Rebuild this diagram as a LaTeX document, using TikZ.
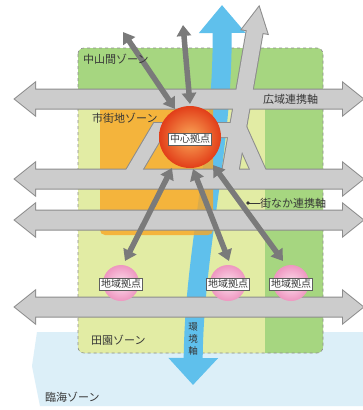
\documentclass[tikz,border=0pt]{standalone}
\usepackage{fontspec}
\setmainfont{Noto Sans CJK JP}
\usetikzlibrary{arrows.meta}
\definecolor{mtgreen}{RGB}{166,214,128}
\definecolor{ruralgreen}{RGB}{226,236,164}
\definecolor{urbanorange}{RGB}{249,166,35}
\definecolor{seablue}{RGB}{220,239,248}
\definecolor{riverblue}{RGB}{95,192,236}
\definecolor{roadfill}{RGB}{204,204,204}
\definecolor{roadline}{RGB}{140,140,140}
\definecolor{arrowgray}{RGB}{122,122,122}
\definecolor{txt}{RGB}{55,55,55}
\definecolor{zoneedge}{RGB}{140,140,140}
\definecolor{coreinner}{RGB}{250,168,88}
\definecolor{coreouter}{RGB}{226,62,25}
\definecolor{pinkinner}{RGB}{252,222,236}
\definecolor{pinkouter}{RGB}{238,150,192}
\begin{document}
\begin{tikzpicture}[x=1pt,y=-1pt,
  zonelabel/.style={anchor=west, font=\fontsize{11}{13}\selectfont, text=txt, inner sep=0pt},
  nodelabel/.style={draw=txt!80, fill=white, line width=0.5pt, inner sep=1.3pt, font=\fontsize{10}{12}\selectfont, text=txt},
  darrow/.style={draw=arrowgray, line width=5.5pt, {Triangle[width=14pt,length=11pt]}-{Triangle[width=14pt,length=11pt]}},
  outl/.style={fill=roadline, draw=roadline, line width=2pt, line join=miter},
  infill/.style={fill=roadfill},
  coreball/.style={circle, minimum size=62pt, inner sep=0pt, shading=radial, inner color=coreinner, outer color=coreouter},
  pinkball/.style={circle, minimum size=36pt, inner sep=0pt, shading=radial, inner color=pinkinner, outer color=pinkouter},
]
\useasboundingbox (0,0) rectangle (363,410);
\fill[white] (0,0) rectangle (363,410);
% sea zone
\fill[seablue] (37,332) -- (363,332) -- (363,406) -- (40,406) -- (32,366) -- cycle;
% mountain zone and rural zone
\fill[mtgreen, rounded corners=6pt] (78,48) rectangle (323,353);
\begin{scope}
  \clip[rounded corners=6pt] (78,48) rectangle (323,353);
  \fill[ruralgreen] (78,100) rectangle (265,353);
\end{scope}
\draw[zoneedge, dashed, line width=0.6pt, rounded corners=6pt] (78,48) rectangle (323,353);
% river
\coordinate (rtop) at (222,5);
\coordinate (rbot) at (193,385);
\draw[riverblue, line width=19pt, {Triangle[width=45pt,length=28pt]}-{Triangle[width=48pt,length=27pt]}] (rtop) .. controls (223,150) and (194,250) .. (rbot);
% urban zone
\fill[urbanorange, fill opacity=0.8, rounded corners=5pt] (100,100) rectangle (213,235);
% roads: outline layer
\foreach \yy in {99,179,220,307} {
  \filldraw[outl] (15,\yy) -- (35,\yy-16) -- (35,\yy-9.5) -- (343,\yy-9.5) -- (343,\yy-16) -- (363,\yy) -- (343,\yy+16) -- (343,\yy+9.5) -- (35,\yy+9.5) -- (35,\yy+16) -- cycle;
}
\filldraw[outl] (259,7) -- (267.5,33.8) -- (262.6,33.0) -- (236.9,180.4) -- (221.1,177.6) -- (246.8,30.2) -- (241.9,29.4) -- cycle;
\draw[roadline, line width=16pt, line join=miter] (129,179) -- (158,130) -- (240,130) -- (262,179);
% roads: fill layer
\foreach \yy in {99,179,220,307} {
  \fill[infill] (15,\yy) -- (35,\yy-16) -- (35,\yy-9.5) -- (343,\yy-9.5) -- (343,\yy-16) -- (363,\yy) -- (343,\yy+16) -- (343,\yy+9.5) -- (35,\yy+9.5) -- (35,\yy+16) -- cycle;
}
\fill[infill] (259,7) -- (267.5,33.8) -- (262.6,33.0) -- (236.9,180.4) -- (221.1,177.6) -- (246.8,30.2) -- (241.9,29.4) -- cycle;
\draw[roadfill, line width=14pt, line join=miter] (129,179) -- (158,130) -- (240,130) -- (262,179);
% link arrows
\coordinate (ul1) at (123,32);  \coordinate (ul2) at (175,109);
\coordinate (up1) at (183,25);  \coordinate (up2) at (190,104);
\coordinate (d1a) at (172,168); \coordinate (d1b) at (125,261);
\coordinate (d2a) at (193,169); \coordinate (d2b) at (229,261);
\coordinate (d3a) at (213,165); \coordinate (d3b) at (283,261);
\draw[darrow] (ul2) -- (ul1);
\draw[darrow] (up2) -- (up1);
\draw[darrow] (d1a) -- (d1b);
\draw[darrow] (d2a) -- (d2b);
\draw[darrow] (d3a) -- (d3b);
% centre and regional hubs
\node[coreball] (core) at (190,137) {};
\node[nodelabel] (corelbl) at (190,139) {中心拠点};
\node[pinkball] (hub1) at (121,283) {};
\node[pinkball] (hub2) at (228,283) {};
\node[pinkball] (hub3) at (291,283) {};
\node[nodelabel] (hub1lbl) at (121,284) {地域拠点};
\node[nodelabel] (hub2lbl) at (228,284) {地域拠点};
\node[nodelabel] (hub3lbl) at (291,284) {地域拠点};
% zone labels
\node[zonelabel] (lmt) at (83,59) {中山間ゾーン};
\node[zonelabel] (lurban) at (92,118) {市街地ゾーン};
\node[zonelabel] (lrural) at (91,340) {田園ゾーン};
\node[zonelabel] (lsea) at (45,397) {臨海ゾーン};
\node[zonelabel] (lwide) at (263,99) {広域連携軸};
\node[zonelabel] (ltown) at (260,203) {街なか連携軸};
\node[font=\fontsize{9.5}{12}\selectfont, text=txt, align=center, inner sep=0pt] (lriver) at (193,339) {環\\境\\軸};
\coordinate (tdot) at (248,203);
\draw[txt, line width=0.7pt] (tdot) -- (ltown.west);
\fill[txt] (tdot) circle (1.8pt);
\end{tikzpicture}
\end{document}
